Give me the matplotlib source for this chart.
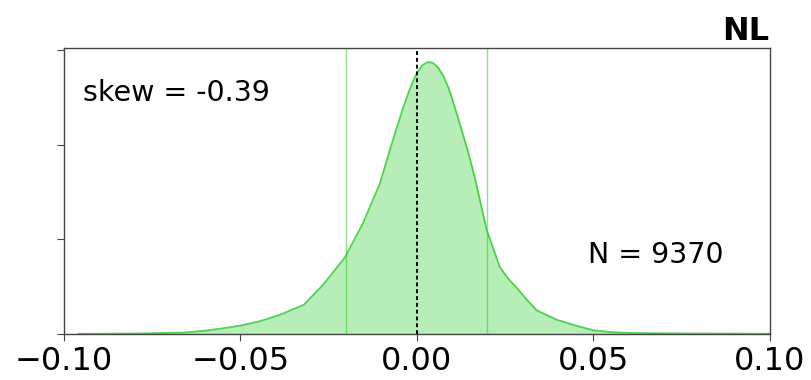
import matplotlib
matplotlib.use("Agg")
import matplotlib.pyplot as plt

# density curve (x = value, y = density)
X_VALS = [-0.096, -0.080, -0.066, -0.060, -0.055, -0.050, -0.045, -0.039,
          -0.032, -0.0266, -0.0204, -0.0153, -0.0105, -0.0068,
          -0.0040, -0.0020, 0.0000, 0.0015, 0.0030, 0.0045, 0.0060,
          0.0075, 0.0090, 0.0105, 0.0122, 0.0145, 0.0164, 0.0198, 0.0235,
          0.0260, 0.0283, 0.0310, 0.034, 0.0397, 0.045, 0.050, 0.055,
          0.061, 0.080, 0.100]
DENSITY = [0.02, 0.05, 0.15, 0.35, 0.6, 0.9, 1.3, 2.0,
           3.1, 5.2, 8.1, 11.7, 15.9, 20.5,
           23.8, 25.9, 27.6, 28.4, 28.75, 28.7, 28.2,
           27.3, 26.0, 24.3, 22.2, 19.3, 16.6, 11.0, 7.1,
           5.8, 4.9, 3.7, 2.5, 1.5, 0.9, 0.4, 0.2,
           0.1, 0.05, 0.03]

BAND = [-0.02, 0.02]
CENTER = 0.0
XTICKS = [-0.10, -0.05, 0.00, 0.05, 0.10]
YTICKS = [0, 10, 20, 30]
TITLE = "NL"
SKEW_TEXT = "skew = -0.39"
N_TEXT = "N = 9370"

fig = plt.figure(figsize=(8.11, 3.80), dpi=100)
ax = fig.add_axes([0.079, 0.121, 0.870, 0.754])

ax.fill_between(X_VALS, DENSITY, color="limegreen", alpha=0.35, linewidth=0)
ax.plot(X_VALS, DENSITY, color="limegreen", alpha=0.85, linewidth=1.3,
        solid_joinstyle="round")

for b in BAND:
    ax.axvline(b, color="limegreen", alpha=0.55, linewidth=1)
ax.axvline(CENTER, color="black", linestyle=(0, (2, 1.5)), linewidth=1.4)

ax.set_xlim(-0.10, 0.10)
ax.set_ylim(0, 30.3)
ax.set_xticks(XTICKS)
ax.set_xticklabels(["\u22120.10", "\u22120.05", "0.00", "0.05", "0.10"])
ax.set_yticks(YTICKS)
ax.set_yticklabels([])
ax.tick_params(axis="both", length=5, color="#444444")
ax.tick_params(axis="x", labelsize=23)
for s in ax.spines.values():
    s.set_color("#444444")
    s.set_linewidth(1.0)

ax.set_title(TITLE, loc="right", fontsize=23, fontweight="bold", pad=4)
ax.text(0.027, 0.84, SKEW_TEXT, transform=ax.transAxes, fontsize=20.5,
        ha="left", va="center")
ax.text(0.743, 0.276, N_TEXT, transform=ax.transAxes, fontsize=20.5,
        ha="left", va="center")

fig.savefig("out.png", dpi=100)
